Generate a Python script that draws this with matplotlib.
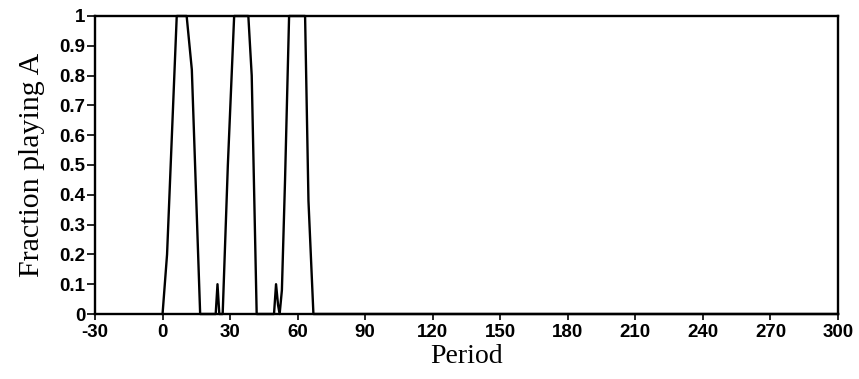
import matplotlib.pyplot as plt

# values
period = [0, 2, 6.3, 10.7, 13, 16.7, 23.6, 24.4, 25.2, 26.7, 29, 31.8, 38.1,
          39.6, 41.8, 49.5, 50.4, 51.3, 52, 53, 54.4, 56.2, 63.3, 64.8, 67, 300]
frac_a = [0, 0.2, 1, 1, 0.82, 0, 0, 0.1, 0, 0, 0.5, 1, 1,
          0.8, 0, 0, 0.1, 0.03, 0, 0.08, 0.45, 1, 1, 0.38, 0, 0]

xticks = list(range(-30, 301, 30))
yticks = [0, 0.1, 0.2, 0.3, 0.4, 0.5, 0.6, 0.7, 0.8, 0.9, 1]
ytick_labels = ["0", "0.1", "0.2", "0.3", "0.4", "0.5", "0.6", "0.7", "0.8", "0.9", "1"]

fig = plt.figure(figsize=(8.59, 3.79), dpi=100)
ax = fig.add_axes([0.1106, 0.1715, 0.8650, 0.7863])

ax.plot(period, frac_a, color="black", lw=1.7, clip_on=False)

ax.set_xlim(-30, 300)
ax.set_ylim(0, 1)
ax.set_xticks(xticks)
ax.set_xticklabels([str(t) for t in xticks])
ax.set_yticks(yticks)
ax.set_yticklabels(ytick_labels)

for s in ax.spines.values():
    s.set_linewidth(1.7)

ax.tick_params(axis="x", direction="out", length=4, width=1.2, labelsize=13.5, pad=3)
ax.tick_params(axis="y", direction="out", length=6, width=1.2, labelsize=13.5, pad=1)
for lab in ax.get_xticklabels() + ax.get_yticklabels():
    lab.set_family("Liberation Sans")
    lab.set_fontweight("bold")

ax.set_xlabel("Period", family="Liberation Serif", fontsize=20, labelpad=2)
ax.set_ylabel("Fraction playing A", family="Liberation Serif", fontsize=21.5, labelpad=10)

fig.savefig("out.png", dpi=100)
